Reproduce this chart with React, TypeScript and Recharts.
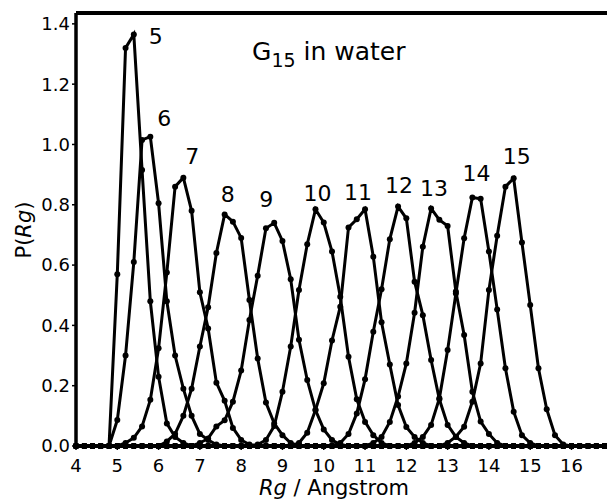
import { LineChart, Line, XAxis, YAxis, ReferenceLine } from "recharts";

// R_g grid (Angstrom), one point every 0.2
const RG = [
  4, 4.2, 4.4, 4.6, 4.8, 5, 5.2, 5.4, 5.6, 5.8, 6, 6.2, 6.4, 6.6, 6.8, 7, 7.2, 7.4, 7.6, 7.8,
  8, 8.2, 8.4, 8.6, 8.8, 9, 9.2, 9.4, 9.6, 9.8, 10, 10.2, 10.4, 10.6, 10.8, 11, 11.2, 11.4,
  11.6, 11.8, 12, 12.2, 12.4, 12.6, 12.8, 13, 13.2, 13.4, 13.6, 13.8, 14, 14.2, 14.4, 14.6,
  14.8, 15, 15.2, 15.4, 15.6, 15.8, 16, 16.2, 16.4, 16.6, 16.8,
];

// P(Rg) for each chain length, non-zero window + first R_g of that window (0 elsewhere)
const P5_START = 4.8;
const P5 = [0, 0.57, 1.32, 1.365, 0.915, 0.48, 0.23, 0.075, 0.03, 0.01];
const P6_START = 4.8;
const P6 = [0, 0.086, 0.3, 0.61, 1.015, 1.026, 0.805, 0.48, 0.3, 0.19, 0.1, 0.04, 0.02, 0.005];
const P7_START = 5.2;
const P7 = [0.01, 0.027, 0.065, 0.153, 0.324, 0.575, 0.86, 0.89, 0.78, 0.51, 0.39, 0.21, 0.15, 0.06, 0.02, 0.005];
const P8_START = 6.2;
const P8 = [0.015, 0.04, 0.1, 0.19, 0.33, 0.46, 0.64, 0.768, 0.744, 0.69, 0.484, 0.29, 0.144, 0.075, 0.036, 0.01];
const P9_START = 7.0;
const P9 = [0.01, 0.025, 0.065, 0.085, 0.147, 0.25, 0.418, 0.565, 0.722, 0.74, 0.68, 0.553, 0.352, 0.219, 0.119, 0.055, 0.02, 0.005];
const P10_START = 8.4;
const P10 = [0.005, 0.02, 0.066, 0.18, 0.33, 0.517, 0.669, 0.785, 0.741, 0.645, 0.495, 0.296, 0.155, 0.08, 0.036, 0.01];
const P11_START = 9.4;
const P11 = [0.01, 0.044, 0.119, 0.208, 0.35, 0.462, 0.725, 0.752, 0.785, 0.628, 0.41, 0.27, 0.136, 0.063, 0.03, 0.01];
const P12_START = 10.4;
const P12 = [0.01, 0.04, 0.108, 0.221, 0.379, 0.52, 0.686, 0.794, 0.755, 0.545, 0.434, 0.285, 0.155, 0.07, 0.03, 0.01];
const P13_START = 11.2;
const P13 = [0.01, 0.03, 0.08, 0.164, 0.274, 0.442, 0.661, 0.788, 0.75, 0.73, 0.512, 0.368, 0.18, 0.081, 0.04, 0.01];
const P14_START = 12.2;
const P14 = [0.01, 0.03, 0.07, 0.158, 0.318, 0.506, 0.689, 0.824, 0.82, 0.645, 0.453, 0.258, 0.114, 0.036, 0.01];
const P15_START = 13.0;
const P15 = [0.01, 0.031, 0.064, 0.147, 0.274, 0.517, 0.697, 0.86, 0.888, 0.675, 0.468, 0.258, 0.122, 0.036, 0.005];

const X_TICKS = [4, 5, 6, 7, 8, 9, 10, 11, 12, 13, 14, 15, 16];
const Y_TICKS = [0, 0.2, 0.4, 0.6, 0.8, 1.0, 1.2, 1.4];
const X_MAX = 16.86;
const Y_MAX = 1.436;

const FONT = "'DejaVu Sans', sans-serif";

// dx/dy: where each curve's number sits relative to its peak point
const series = [
  { n: 5, start: P5_START, vals: P5, dx: 22, dy: 2 },
  { n: 6, start: P6_START, vals: P6, dx: 14, dy: -18 },
  { n: 7, start: P7_START, vals: P7, dx: 9, dy: -21 },
  { n: 8, start: P8_START, vals: P8, dx: 3, dy: -20 },
  { n: 9, start: P9_START, vals: P9, dx: -8, dy: -23 },
  { n: 10, start: P10_START, vals: P10, dx: 2, dy: -16 },
  { n: 11, start: P11_START, vals: P11, dx: -7, dy: -17 },
  { n: 12, start: P12_START, vals: P12, dx: 1, dy: -21 },
  { n: 13, start: P13_START, vals: P13, dx: 3, dy: -20 },
  { n: 14, start: P14_START, vals: P14, dx: 4, dy: -24 },
  { n: 15, start: P15_START, vals: P15, dx: 3, dy: -22 },
].map((s) => {
  const first = RG.findIndex((x) => Math.abs(x - s.start) < 1e-6);
  const peak = first + s.vals.indexOf(Math.max(...s.vals));
  return { ...s, key: `g${s.n}`, first, peak };
});

const data = RG.map((x, i) => {
  const row: Record<string, number> = { x };
  series.forEach((s) => {
    const v = s.vals[i - s.first];
    row[s.key] = v === undefined ? 0 : v;
  });
  return row;
});

export default function App() {
  return (
    <div style={{ position: "absolute", left: 0, top: 0, width: 607, height: 502, background: "#fff" }}>
      <LineChart width={607} height={502} data={data} margin={{ top: 13, right: 0, bottom: 0, left: 0 }}>
        <XAxis
          dataKey="x"
          type="number"
          domain={[4, X_MAX]}
          ticks={X_TICKS}
          height={56}
          tickSize={4}
          tickMargin={9}
          axisLine={{ stroke: "#000", strokeWidth: 2 }}
          tickLine={{ stroke: "#000", strokeWidth: 1.5 }}
          tick={{ fill: "#000", fontSize: 18, fontFamily: FONT }}
        />
        <YAxis
          type="number"
          domain={[0, Y_MAX]}
          ticks={Y_TICKS}
          width={76}
          tickSize={4}
          tickMargin={2}
          tickFormatter={(v: number) => v.toFixed(1)}
          axisLine={{ stroke: "#000", strokeWidth: 3.5 }}
          tickLine={{ stroke: "#000", strokeWidth: 1.5 }}
          tick={{ fill: "#000", fontSize: 18, fontFamily: FONT }}
        />
        <ReferenceLine y={Y_MAX} stroke="#000" strokeWidth={4} />
        {series.map((s) => (
          <Line
            key={s.key}
            dataKey={s.key}
            type="linear"
            stroke="#000"
            strokeWidth={3}
            dot={{ r: 3, fill: "#000", stroke: "#000", strokeWidth: 0 }}
            activeDot={false}
            isAnimationActive={false}
            label={(p: any) =>
              p.index === s.peak ? (
                <text
                  key={`lbl-${s.n}`}
                  x={p.x + s.dx}
                  y={p.y + s.dy}
                  textAnchor="middle"
                  dominantBaseline="central"
                  fontSize={22}
                  fontFamily={FONT}
                  fill="#000"
                >
                  {s.n}
                </text>
              ) : null
            }
          />
        ))}
        <text x={252} y={60} fontSize={25} fontFamily={FONT} fill="#000">
          G
          <tspan fontSize={19} dy={7}>
            15
          </tspan>
          <tspan dy={-7}> in water</tspan>
        </text>
        <text x={334} y={495} textAnchor="middle" fontSize={21} fontFamily={FONT} fill="#000">
          <tspan fontStyle="italic">Rg</tspan> / Angstrom
        </text>
        <text
          transform="translate(31,230) rotate(-90)"
          textAnchor="middle"
          fontSize={21}
          fontFamily={FONT}
          fill="#000"
        >
          P(<tspan fontStyle="italic">Rg</tspan>)
        </text>
      </LineChart>
    </div>
  );
}
